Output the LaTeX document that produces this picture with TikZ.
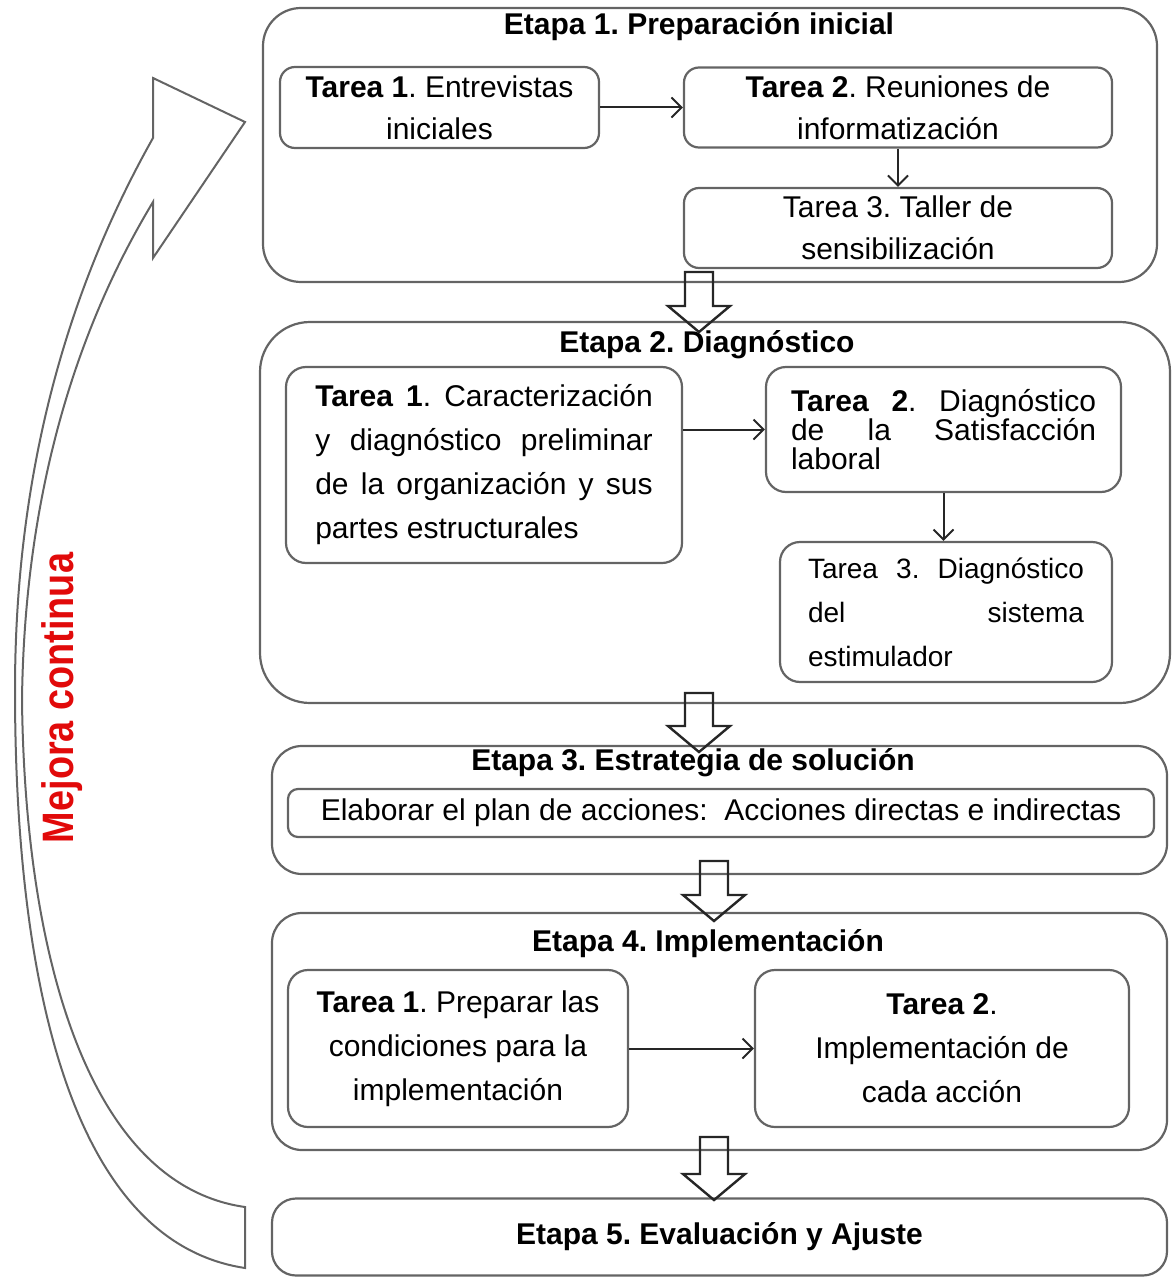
\documentclass[tikz,border=0pt]{standalone}
\usepackage{fontspec}
\usepackage{graphicx}
\setmainfont{Liberation Sans}
\usetikzlibrary{arrows.meta}
\definecolor{gris}{RGB}{100,100,100}
\definecolor{rojo}{RGB}{225,10,10}
\tolerance=10000
\hbadness=10000
\frenchspacing
\newcommand{\flechagrande}[3]{\draw[bloque] (#1-14,#2) -- (#1+14,#2) -- (#1+14,#3-26) -- (#1+31,#3-26) -- (#1,#3) -- (#1-31,#3-26) -- (#1-14,#3-26) -- cycle;}
\tikzset{
  etapa/.style={draw=gris, line width=1.1pt, inner sep=0pt},
  tarea/.style={draw=gris, line width=1.1pt, rounded corners=7.5pt, inner sep=0pt, align=center, font=\fontsize{15}{21}\selectfont},
  titulo/.style={inner sep=0pt, font=\fontsize{15}{18}\selectfont\bfseries},
  flecha/.style={draw=black!85, line width=1pt, -{Straight Barb[length=5pt,width=10pt]}},
  bloque/.style={draw=black!85, line width=1.2pt},
  curva/.style={draw=gris, line width=1pt}
}
\begin{document}
\begin{tikzpicture}[x=0.5pt,y=-0.5pt]
\useasboundingbox (0,0) rectangle (1172,1279);
\draw[curva] (245,1207) -- (245,1268) .. controls (60,1240) and (15,950) .. (15,690) .. controls (15,430) and (90,250) .. (153,138) -- (153,78) -- (245,122) -- (153,258) -- (153,202) .. controls (100,290) and (25,450) .. (22,700) .. controls (25,960) and (90,1185) .. (245,1207) -- cycle;
\node[rotate=90, text=rojo, inner sep=0pt, font=\fontsize{22}{22}\selectfont\bfseries] (mejora) at (62,698) {\scalebox{0.86}[1]{Mejora continua}};

\node[etapa, rounded corners=19pt, minimum width=447pt, minimum height=137pt] (e1) at (710,145) {};
\node[titulo] (e1t) at (699,27) {Etapa 1. Preparación inicial};
\node[tarea, minimum width=159.5pt, minimum height=40.5pt] (t11) at (439.5,107.5) {\textbf{Tarea 1}. Entrevistas\\iniciales};
\node[tarea, minimum width=214pt, minimum height=40pt] (t12) at (898,107.5) {\textbf{Tarea 2}. Reuniones de\\informatización};
\node[tarea, minimum width=214pt, minimum height=40pt] (t13) at (898,228) {Tarea 3. Taller de\\sensibilización};
\draw[flecha] (t11) -- (t12);
\draw[flecha] (t12) -- (t13);

\node[etapa, rounded corners=25pt, minimum width=455pt, minimum height=190.5pt] (e2) at (715,512.5) {};
\node[titulo] (e2t) at (707,345) {Etapa 2. Diagnóstico};
\node[tarea, rounded corners=10pt, minimum width=198pt, minimum height=98pt, text width=168.75pt, align=justify, font=\fontsize{15}{22}\selectfont] (t21) at (484,465) {\textbf{Tarea 1}. Caracterización\linebreak y diagnóstico preliminar\linebreak de la organización y sus\linebreak partes estructurales};
\node[tarea, rounded corners=10pt, minimum width=177.5pt, minimum height=62.5pt, text width=152.5pt, align=justify, font=\fontsize{15}{14.5}\selectfont] (t22) at (943.5,429.5) {\textbf{Tarea 2}. Diagnóstico\linebreak de la Satisfacción\linebreak laboral};
\node[tarea, rounded corners=10pt, minimum width=166pt, minimum height=70pt, text width=138pt, align=justify, font=\fontsize{14}{22}\selectfont] (t23) at (946,612) {Tarea 3. Diagnóstico\linebreak del sistema\linebreak estimulador};
\draw[flecha] (t21.east |- t22.west) -- (t22.west);
\draw[flecha] (t22.south) -- (t22.south |- t23.north);

\node[etapa, rounded corners=15pt, minimum width=447.5pt, minimum height=64pt] (e3) at (719.5,810) {};
\node[titulo] (e3t) at (693,763) {Etapa 3. Estrategia de solución};
\node[tarea, rounded corners=5pt, minimum width=433pt, minimum height=24pt] (t31) at (721,813) {Elaborar el plan de acciones: \ Acciones directas e indirectas};

\node[etapa, rounded corners=15pt, minimum width=447.5pt, minimum height=118.5pt] (e4) at (719.5,1031.5) {};
\node[titulo] (e4t) at (708,944) {Etapa 4. Implementación};
\node[tarea, rounded corners=10pt, minimum width=170pt, minimum height=78.5pt, font=\fontsize{15}{22}\selectfont] (t41) at (458,1048.5) {\textbf{Tarea 1}. Preparar las\\condiciones para la\\implementación};
\node[tarea, rounded corners=10pt, minimum width=187pt, minimum height=78.5pt, font=\fontsize{15}{22}\selectfont] (t42) at (942,1048.5) {\textbf{Tarea 2}.\\Implementación de\\cada acción};
\draw[flecha] (t41) -- (t42);

\node[etapa, rounded corners=12pt, minimum width=447.5pt, minimum height=38.5pt, font=\fontsize{15}{18}\selectfont\bfseries] (e5) at (719.5,1237) {Etapa 5. Evaluación y Ajuste};

\flechagrande{699}{272}{332}
\flechagrande{699}{693}{752}
\flechagrande{714}{861}{921}
\flechagrande{714}{1137}{1200}
\end{tikzpicture}
\end{document}
